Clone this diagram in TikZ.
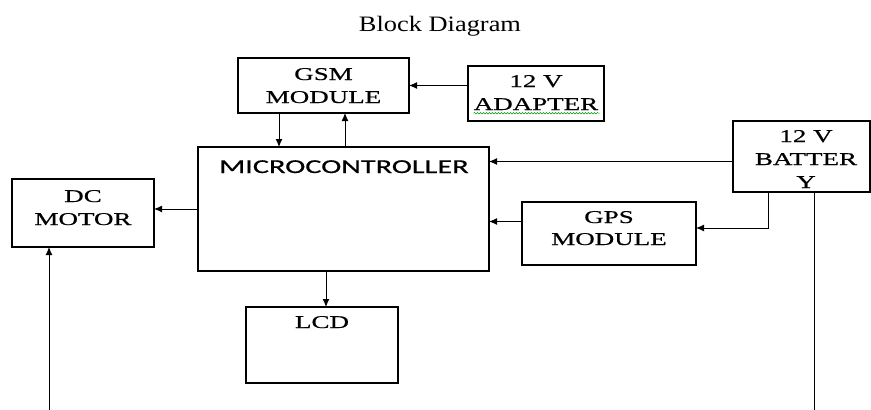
\documentclass[tikz,border=0pt]{standalone}
\usepackage{fontspec}
\setmainfont{Liberation Serif}
\newfontfamily\boxfont[FakeStretch=1.5,FakeBold=0.6]{Liberation Serif}
\newfontfamily\titlefont[FakeStretch=1.2]{Liberation Serif}
\newfontfamily\mcufont[FakeStretch=1.54,FakeBold=0.6]{Carlito}
\usetikzlibrary{arrows.meta,decorations.pathmorphing}
\begin{document}
\begin{tikzpicture}[x=1pt,y=-1pt,
  blk/.style={draw, line width=1.1pt, inner sep=0pt, outer sep=0pt},
  txt/.style={anchor=base, inner sep=0pt, font=\boxfont\fontsize{18}{22}\selectfont},
  arr/.style={line width=1pt, -{Latex[length=8pt,width=7pt]}},
  ln/.style={line width=1pt}]
\useasboundingbox (0,0) rectangle (871,410);
% title
\node[anchor=base, inner sep=0pt, font=\titlefont\fontsize{22}{26}\selectfont] (title) at (440,31) {Block Diagram};
% boxes
\node[blk, minimum width=171pt, minimum height=55pt] (gsm) at (323.5,85.5) {};
\node[blk, minimum width=136pt, minimum height=55pt] (adp) at (536,93.5) {};
\node[blk, minimum width=291pt, minimum height=124pt] (mcu) at (343.5,209) {};
\node[blk, minimum width=137pt, minimum height=71pt] (bat) at (801.5,156.5) {};
\node[blk, minimum width=142pt, minimum height=68pt] (dc) at (83,213) {};
\node[blk, minimum width=174pt, minimum height=63pt] (gps) at (609,233.5) {};
\node[blk, minimum width=152pt, minimum height=76pt] (lcd) at (322,345) {};
% texts
\node[txt] (gsmt1) at (323.5,80) {GSM};
\node[txt] (gsmt2) at (323.5,103) {MODULE};
\node[txt] (adpt1) at (536,87) {12 V};
\node[txt] (adpt2) at (536,110) {ADAPTER};
\node[anchor=base, inner sep=0pt, font=\mcufont\fontsize{19.7}{24}\selectfont] (mcut) at (344,173) {MICROCONTROLLER};
\node[txt] (batt1) at (806,142) {12 V};
\node[txt] (batt2) at (806,165) {BATTER};
\node[txt] (batt3) at (806,188) {Y};
\node[txt] (dct1) at (83,202) {DC};
\node[txt] (dct2) at (83,225) {MOTOR};
\node[txt] (gpst1) at (609,223) {GPS};
\node[txt] (gpst2) at (609,245) {MODULE};
\node[txt] (lcdt) at (322,328) {LCD};
% spell-check squiggle
\draw[green!60!black, line width=0.5pt, decorate, decoration={snake, amplitude=0.8pt, segment length=3pt}] (adpt2.south west) ++(0,3) -- ++(126,0);
% connectors
\draw[arr] (gsm.east -| adp.west) -- (gsm.east);
\draw[arr] ([xshift=-44.5pt]gsm.south) -- ([xshift=-44.5pt]gsm.south |- mcu.north);
\draw[arr] ([xshift=21.5pt]gsm.south |- mcu.north) -- ([xshift=21.5pt]gsm.south);
\draw[arr] ([yshift=-5pt]bat.west) -- ([yshift=-5pt]bat.west -| mcu.east);
\draw[arr] ([xshift=-33.5pt]bat.south) |- ([yshift=5.5pt]gps.east);
\draw[arr] ([yshift=12pt]gps.west) -- ([yshift=12pt]gps.west -| mcu.east);
\draw[arr] (mcu.west) -- (mcu.west -| dc.east);
\draw[arr] ([xshift=-17.5pt]mcu.south) -- ([xshift=-17.5pt]mcu.south |- lcd.north);
\coordinate (batend) at (814,410);
\coordinate (dcend) at (49,410);
\draw[ln] (bat.south -| batend) -- (batend);
\draw[arr] (dcend) -- (dcend |- dc.south);
\end{tikzpicture}
\end{document}
